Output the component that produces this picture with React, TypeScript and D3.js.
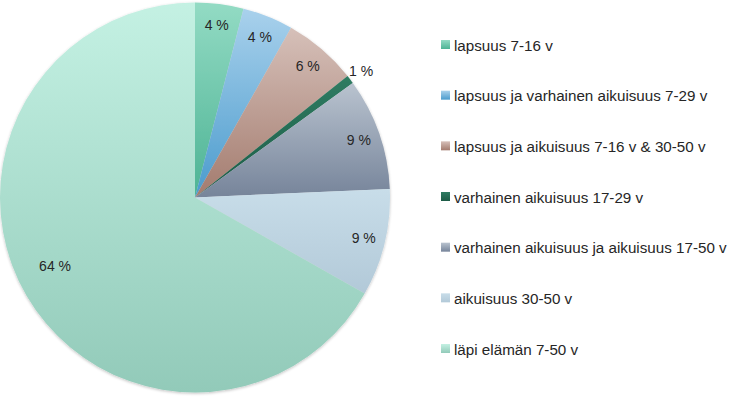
import React from "react";
import * as d3 from "d3";

const categories = [
  "lapsuus 7-16 v",
  "lapsuus ja varhainen aikuisuus 7-29 v",
  "lapsuus ja aikuisuus 7-16 v & 30-50 v",
  "varhainen aikuisuus 17-29 v",
  "varhainen aikuisuus ja aikuisuus 17-50 v",
  "aikuisuus 30-50 v",
  "läpi elämän 7-50 v",
];
const values = [4.0, 4.2, 6.1, 0.7, 9.3, 8.9, 66.8];
const valueLabels = ["4 %", "4 %", "6 %", "1 %", "9 %", "9 %", "64 %"];
const colorsTop = ["#93dbc4", "#a9d1ec", "#d6c0b9", "#2f7c62", "#b9c3cf", "#c8dde9", "#c4f1e3"];
const colorsBottom = ["#4db394", "#4a9bcd", "#a37b6e", "#1d5b46", "#76849a", "#b2c9d8", "#92cab9"];

export default function App() {
  const width = 739;
  const height = 398;
  const cx = 195;
  const cy = 197.5;
  const R = 195;

  const pie = d3.pie<number>().sort(null).value((d) => d);
  const arcs = pie(values);
  const arc = d3.arc<d3.PieArcDatum<number>>().innerRadius(0).outerRadius(R);

  const labelPos = (a: d3.PieArcDatum<number>) => {
    const mid = (a.startAngle + a.endAngle) / 2;
    const v = a.data;
    const r = v < 2 ? R * 1.07 : v > 50 ? R * 0.8 : R * 0.89;
    const ang = v > 50 ? mid + 0.07 : mid;
    return [Math.sin(ang) * r, -Math.cos(ang) * r];
  };

  const legendY = d3.scalePoint<number>().domain(d3.range(categories.length)).range([45, 349]);

  return (
    <svg width={width} height={height} style={{ position: "absolute", left: 0, top: 0 }}>
      <defs>
        {categories.map((_, i) => (
          <linearGradient key={i} id={`g${i}`} x1="0" y1="0" x2="0" y2="1">
            <stop offset="0%" stopColor={colorsTop[i]} />
            <stop offset="100%" stopColor={colorsBottom[i]} />
          </linearGradient>
        ))}
        <filter id="sh" x="-10%" y="-10%" width="120%" height="120%">
          <feGaussianBlur in="SourceAlpha" stdDeviation="1.5" />
          <feOffset dx="0" dy="0.5" result="b" />
          <feComponentTransfer>
            <feFuncA type="linear" slope="0.25" />
          </feComponentTransfer>
          <feMerge>
            <feMergeNode />
            <feMergeNode in="SourceGraphic" />
          </feMerge>
        </filter>
      </defs>
      <rect width={width} height={height} fill="#ffffff" />
      <g transform={`translate(${cx},${cy})`} filter="url(#sh)">
        {arcs.map((a, i) => (
          <path key={i} d={arc(a) || ""} fill={`url(#g${i})`} />
        ))}
      </g>
      <g transform={`translate(${cx},${cy})`} fontFamily="'Liberation Sans', Arial, sans-serif" fontSize={14} fill="#262626">
        {arcs.map((a, i) => {
          const [x, y] = labelPos(a);
          return (
            <text key={i} x={x} y={y} textAnchor="middle" dominantBaseline="central">
              {valueLabels[i]}
            </text>
          );
        })}
      </g>
      <g fontFamily="'Liberation Sans', Arial, sans-serif" fontSize={15.2} fill="#262626">
        {categories.map((c, i) => (
          <g key={i} transform={`translate(441,${legendY(i)})`}>
            <rect x={0} y={-5} width={9} height={9} fill={`url(#g${i})`} />
            <text x={13} y={0} dominantBaseline="central">
              {c}
            </text>
          </g>
        ))}
      </g>
    </svg>
  );
}
